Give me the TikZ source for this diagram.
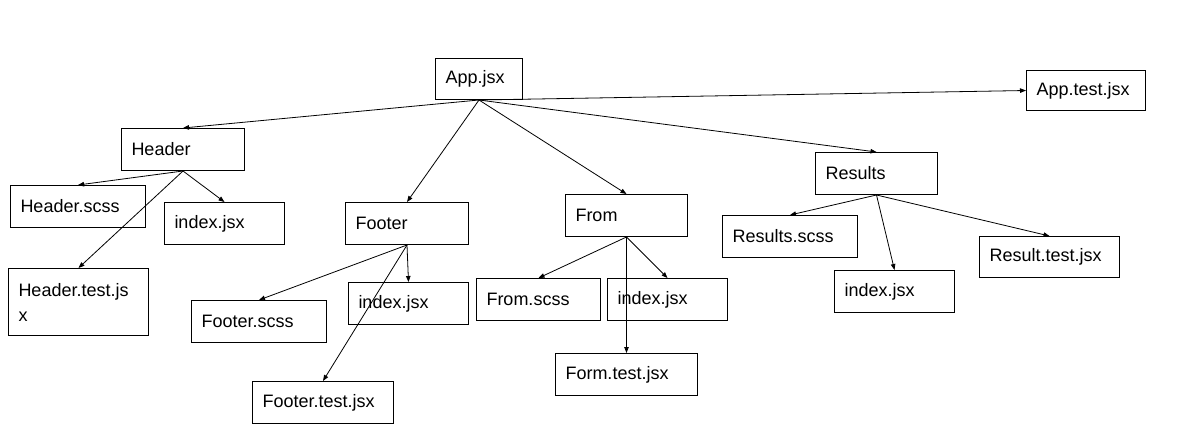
\documentclass[tikz,border=0pt]{standalone}
\usepackage{fontspec}
\setmainfont{Liberation Sans}
\usetikzlibrary{arrows.meta}
\tikzset{
  filebox/.style 2 args={draw=black, line width=1pt, anchor=north west, inner xsep=10pt, inner ysep=0pt,
    minimum height=#2pt, text width=\dimexpr#1pt-20pt\relax, align=left,
    font=\fontsize{18pt}{25pt}\selectfont},
  link/.style={line width=0.8pt, -{Triangle[length=6pt,width=4.5pt]}}
}
\begin{document}
\begin{tikzpicture}[x=1pt,y=-1pt]
\useasboundingbox (0,0) rectangle (1187,441);
\node[filebox={87}{41}] (app) at (435,58) {App.jsx};
\node[filebox={119}{40}] (apptest) at (1026,70) {App.test.jsx};
\node[filebox={123}{42}] (header) at (121,128) {Header};
\node[filebox={135}{42}] (hscss) at (10,185) {Header.scss};
\node[filebox={120}{42}] (hindex) at (164,202) {index.jsx};
\node[filebox={140}{67}] (htest) at (8,268) {Header.test.js\\x};
\node[filebox={123}{42}] (footer) at (345,202) {Footer};
\node[filebox={135}{42}] (fscss) at (191,300) {Footer.scss};
\node[filebox={120}{42}] (findex) at (348,282) {index.jsx};
\node[filebox={141}{42}] (ftest) at (252,381) {Footer.test.jsx};
\node[filebox={122}{42}] (from) at (565,194) {From};
\node[filebox={124}{42}] (fromscss) at (476,278) {From.scss};
\node[filebox={120}{42}] (fromindex) at (607,278) {index.jsx};
\node[filebox={142}{42}] (formtest) at (555,353) {Form.test.jsx};
\node[filebox={122}{42}] (results) at (815,152) {Results};
\node[filebox={135}{42}] (rscss) at (722,215) {Results.scss};
\node[filebox={120}{42}] (rindex) at (834,270) {index.jsx};
\node[filebox={140}{41}] (rtest) at (979,236) {Result.test.jsx};

\draw[link] (app.south) -- (apptest.west);
\draw[link] (app.south) -- (header.north);
\draw[link] (app.south) -- (footer.north);
\draw[link] (app.south) -- (from.north);
\draw[link] (app.south) -- (results.north);
\draw[link] (header.south) -- (hscss.north);
\draw[link] (header.south) -- (hindex.north);
\draw[link] (header.south) -- (htest.north);
\draw[link] (footer.south) -- (fscss.north);
\draw[link] (footer.south) -- (findex.north);
\draw[link] (footer.south) -- (ftest.north);
\draw[link] (from.south) -- (fromscss.north);
\draw[link] (from.south) -- (fromindex.north);
\draw[link] (from.south) -- (formtest.north);
\draw[link] (results.south) -- (rscss.north);
\draw[link] (results.south) -- (rindex.north);
\draw[link] (results.south) -- (rtest.north);
\end{tikzpicture}
\end{document}
